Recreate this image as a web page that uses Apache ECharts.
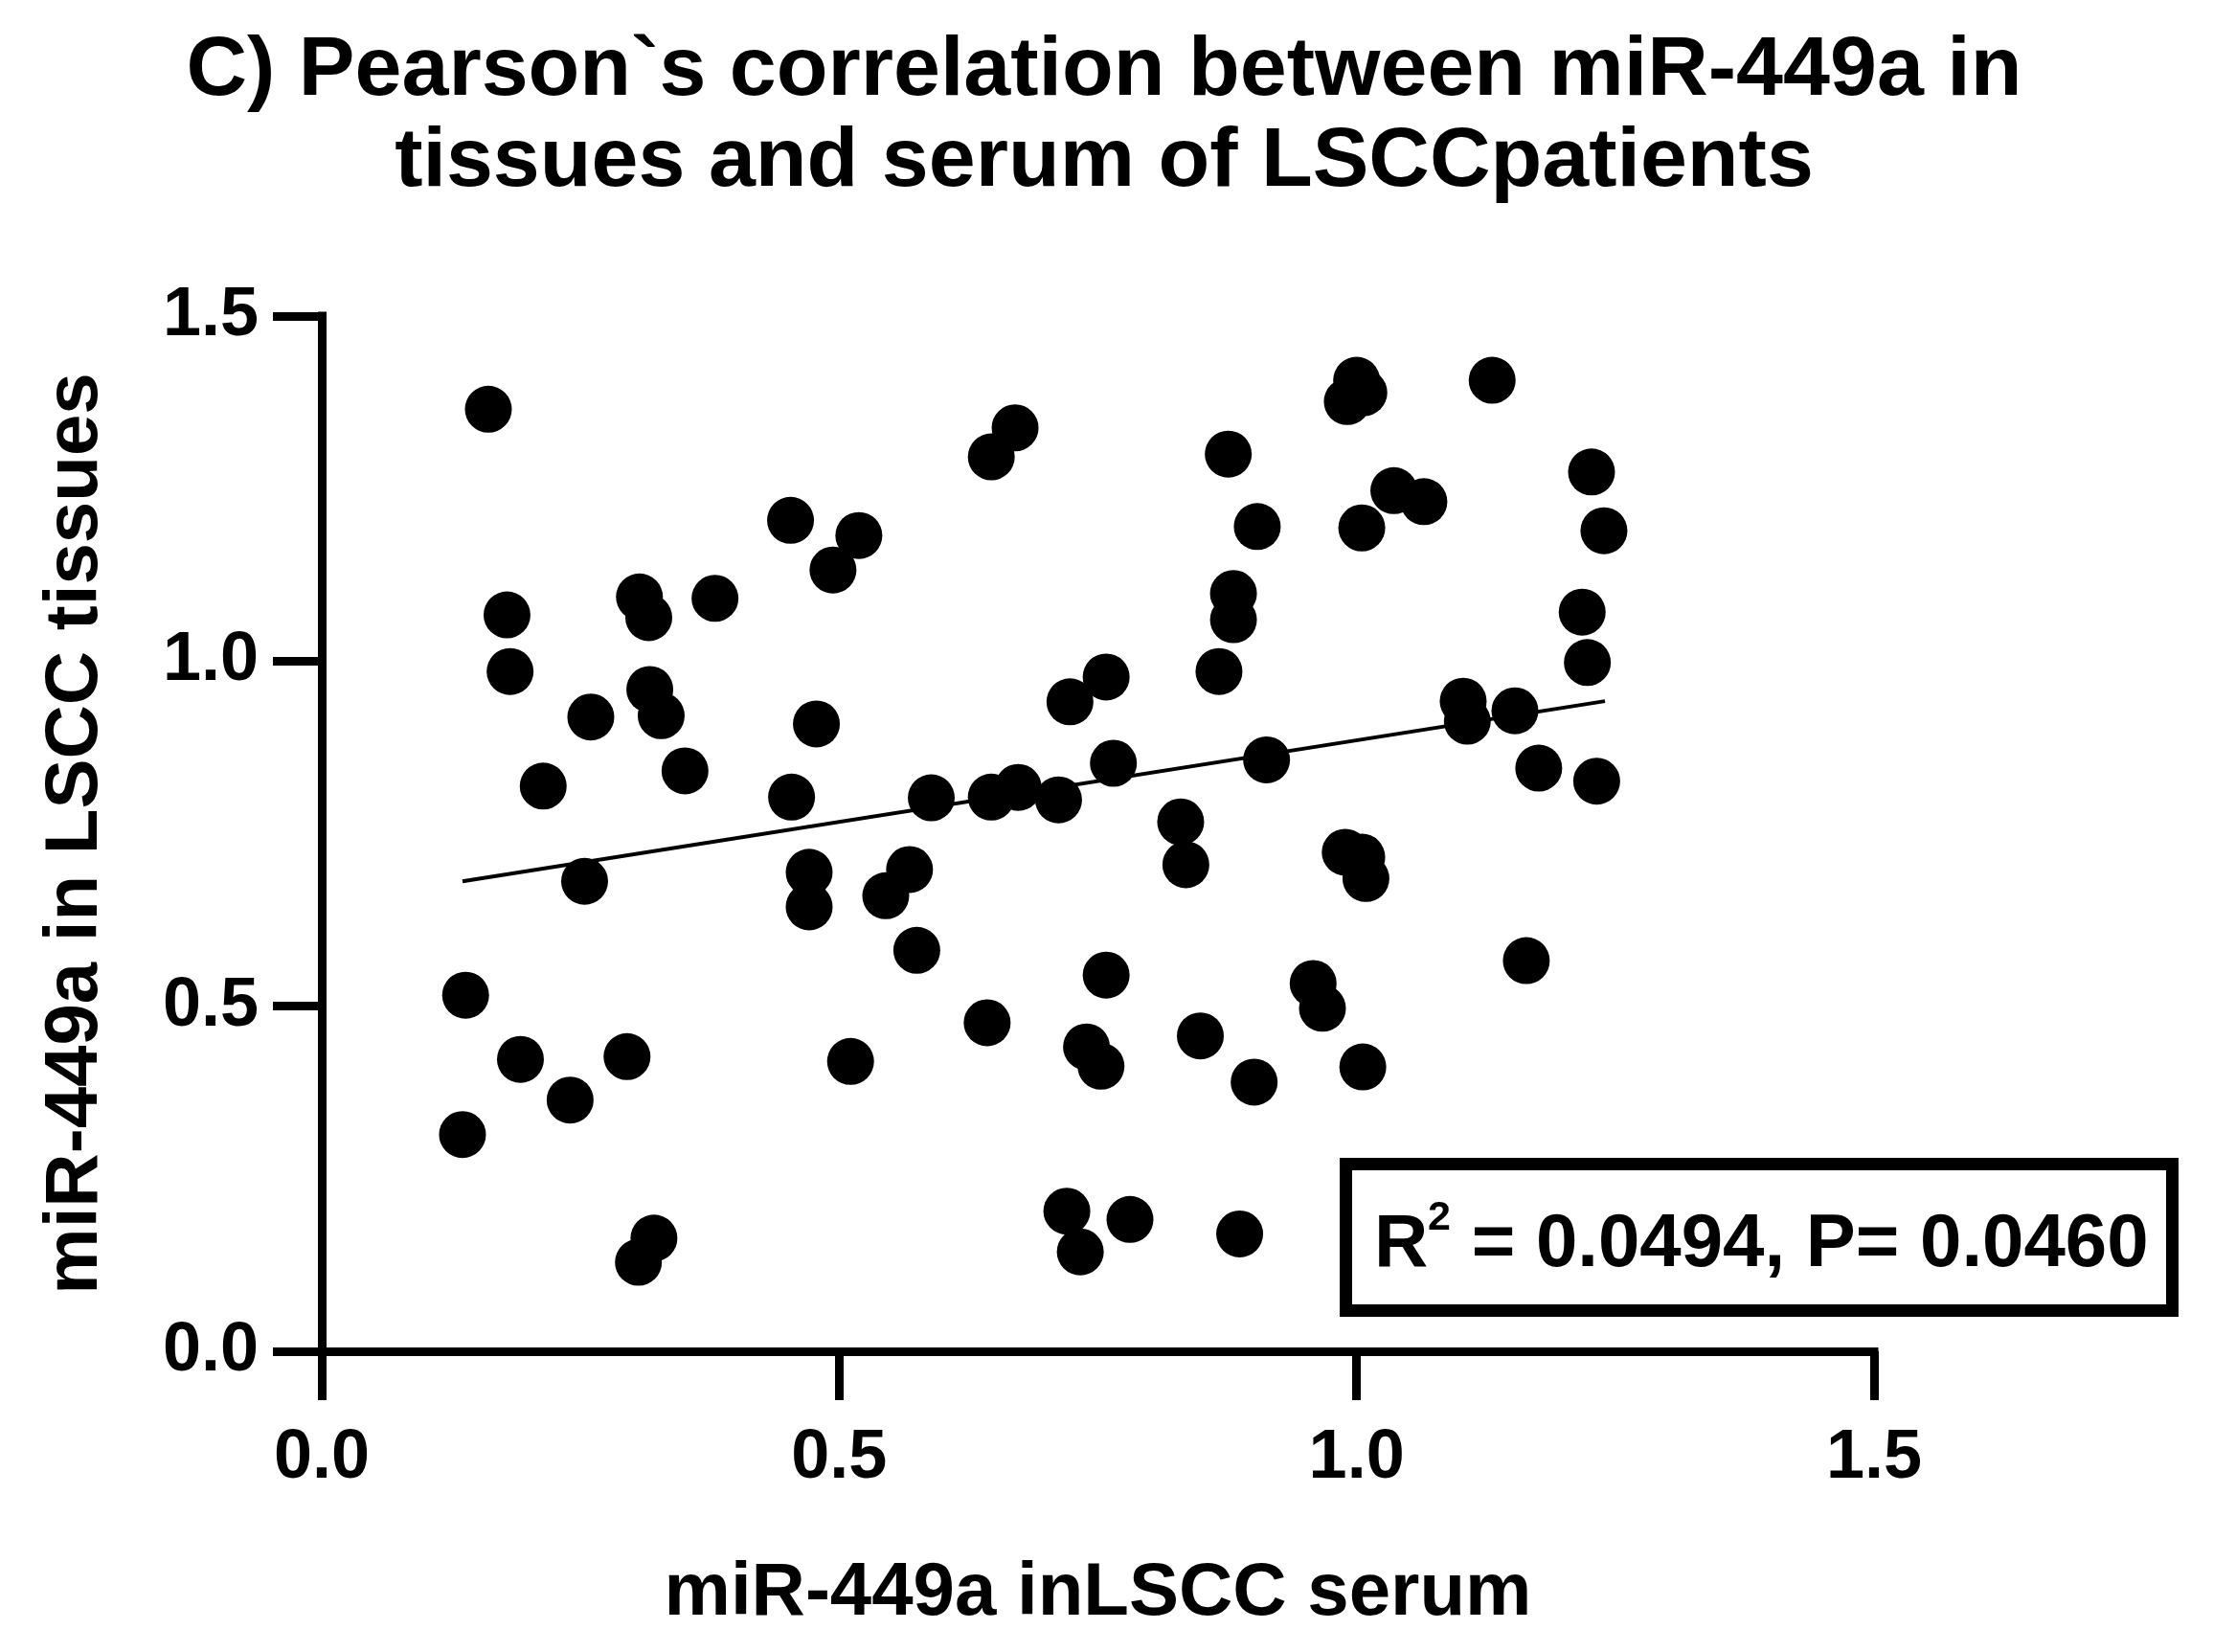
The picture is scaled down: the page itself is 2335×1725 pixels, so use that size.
<!DOCTYPE html>
<html>
<head>
<meta charset="utf-8">
<script src="https://cdn.jsdelivr.net/npm/echarts@6/dist/echarts.min.js"></script>
<style>
html,body{margin:0;padding:0;background:#fff;}
#chart{width:2335px;height:1725px;}
</style>
</head>
<body>
<div id="chart"></div>
<script>
// ---- data ----
const titleText = "C) Pearson`s correlation between miR-449a in\ntissues and serum of LSCCpatients";
const xAxisName = "miR-449a inLSCC serum";
const yAxisName = "miR-449a in LSCC tissues";
const xTickLabels = ["0.0", "0.5", "1.0", "1.5"];
const yTickLabels = ["0.0", "0.5", "1.0", "1.5"];
const serumValues = [
  0.161, 0.179, 0.182, 0.214, 0.139, 0.136, 0.192, 0.240, 0.260, 0.254,
  0.295, 0.307, 0.316, 0.317, 0.328, 0.351, 0.380, 0.306, 0.321, 0.453,
  0.494, 0.519, 0.478, 0.454, 0.471, 0.471, 0.511, 0.545, 0.568, 0.575,
  0.589, 0.647, 0.670, 0.647, 0.673, 0.712, 0.643, 0.723, 0.758, 0.765,
  0.830, 0.835, 0.758, 0.739, 0.753, 0.849, 0.720, 0.733, 0.781, 0.876,
  0.904, 0.881, 0.881, 0.867, 0.913, 0.901, 0.887, 1.000, 0.991, 1.007,
  1.005, 1.036, 1.065, 0.958, 0.967, 0.989, 1.005, 1.009, 1.006, 1.131,
  1.227, 1.239, 1.218, 1.223, 1.232, 1.103, 1.107, 1.153, 1.176, 1.164
];
const tissueValues = [
  1.365, 1.067, 0.985, 0.819, 0.516, 0.314, 0.423, 0.364, 0.919, 0.681,
  0.427, 1.093, 1.063, 0.959, 0.921, 0.841, 1.091, 0.129, 0.164, 1.204,
  1.132, 1.182, 0.909, 0.803, 0.694, 0.644, 0.420, 0.660, 0.698, 0.581,
  0.802, 1.296, 1.338, 0.803, 0.817, 0.799, 0.476, 0.941, 0.977, 0.852,
  0.767, 0.705, 0.545, 0.441, 0.413, 0.457, 0.203, 0.144, 0.191, 1.300,
  1.195, 1.098, 1.060, 0.985, 0.857, 0.390, 0.170, 1.407, 1.376, 1.389,
  1.193, 1.247, 1.231, 0.533, 0.497, 0.723, 0.716, 0.685, 0.412, 1.407,
  1.274, 1.189, 1.071, 0.998, 0.826, 0.942, 0.913, 0.928, 0.845, 0.566
];
// regression line end points
const fitX = [0.136, 1.240];
const fitY = [0.681, 0.942];
const statsR2 = "0.0494";
const statsP = "0.0460";

const FONT = "'Liberation Sans', Arial, Helvetica, sans-serif";
const points = serumValues.map((v, i) => [v, tissueValues[i]]);
const fitLine = fitX.map((v, i) => [v, fitY[i]]);

const chart = echarts.init(document.getElementById('chart'), null, {renderer: 'canvas'});

function axisCommon(labels, margin) {
  return {
    type: 'value', min: 0, max: 1.5, interval: 0.5,
    axisLine: {show: true, onZero: false, lineStyle: {color: '#000', width: 9, cap: 'square'}},
    axisTick: {show: true, inside: false, length: 51, lineStyle: {color: '#000', width: 9}},
    splitLine: {show: false},
    axisLabel: {
      show: true, margin: margin, color: '#000', fontFamily: FONT, fontWeight: 'bold', fontSize: 72,
      formatter: (val, idx) => labels[Math.round(val / 0.5)]
    },
    nameLocation: 'middle',
    nameTextStyle: {color: '#000', fontFamily: FONT, fontWeight: 'bold', fontSize: 78, lineHeight: 78}
  };
}

const xAxis = Object.assign(axisCommon(xTickLabels, 76), {name: xAxisName, nameGap: 214});
const yAxis = Object.assign(axisCommon(yTickLabels, 66), {name: yAxisName, nameGap: 218});

const statFont = {fontFamily: FONT, fontWeight: 'bold', fill: '#000'};

chart.setOption({
  animation: false,
  backgroundColor: '#fff',
  title: {
    text: titleText,
    left: 1153, top: 27, textAlign: 'center', padding: 0,
    textStyle: {color: '#000', fontFamily: FONT, fontWeight: 'bold', fontSize: 88, lineHeight: 95}
  },
  grid: {left: 336, right: 378, top: 330, bottom: 314, containLabel: false},
  xAxis: xAxis,
  yAxis: yAxis,
  series: [
    {
      type: 'line', data: fitLine, showSymbol: false, symbol: 'none', z: 2,
      lineStyle: {color: '#000', width: 4}, silent: true
    },
    {
      type: 'scatter', data: points, symbol: 'circle', symbolSize: 49, z: 3,
      itemStyle: {color: '#000', opacity: 1}, silent: true
    }
  ],
  graphic: [
    {
      type: 'rect', z: 100,
      shape: {x: 1405.5, y: 1215.5, width: 863, height: 153},
      style: {fill: '#fff', stroke: '#000', lineWidth: 13}
    },
    {
      type: 'text', z: 101, x: 1435, y: 1300,
      style: Object.assign({text: 'R', fontSize: 78, align: 'left', verticalAlign: 'middle'}, statFont)
    },
    {
      type: 'text', z: 101, x: 1491, y: 1272,
      style: Object.assign({text: '2', fontSize: 43, align: 'left', verticalAlign: 'middle'}, statFont)
    },
    {
      type: 'text', z: 101, x: 1515, y: 1300,
      style: Object.assign({text: ' = ' + statsR2 + ', P= ' + statsP, fontSize: 78, align: 'left', verticalAlign: 'middle'}, statFont)
    }
  ]
});
</script>
</body>
</html>
